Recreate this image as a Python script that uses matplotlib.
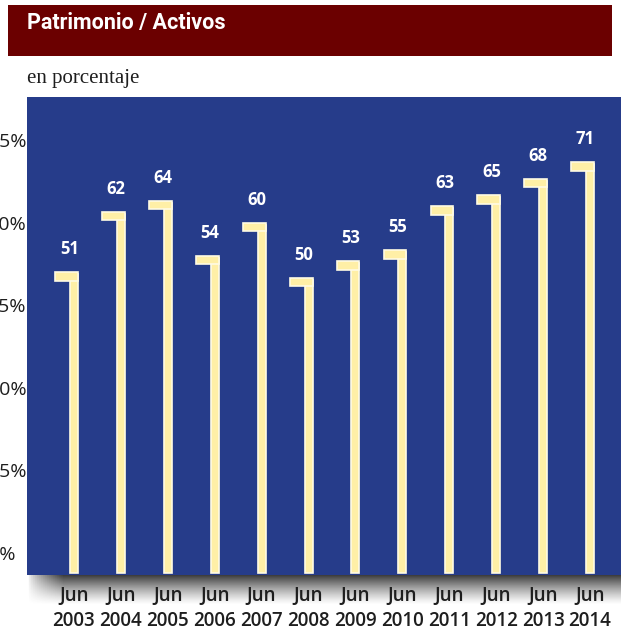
import numpy as np
import matplotlib
matplotlib.use("Agg")
import matplotlib.pyplot as plt
from matplotlib.patches import Rectangle

# data
years = ["2003", "2004", "2005", "2006", "2007", "2008",
         "2009", "2010", "2011", "2012", "2013", "2014"]
ratio = [51, 62, 64, 54, 60, 50, 53, 55, 63, 65, 68, 71]
yticks = [0, 15, 30, 45, 60, 75]

W, H = 621, 631
BLUE = "#263C8A"
CREAM = "#FFEFA6"
CREAM_EDGE = "#FFFBE4"
TEXT = "#1E1E1E"
SANS = ["Open Sans", "DejaVu Sans"]

fig = plt.figure(figsize=(W / 100, H / 100), dpi=100)
fig.patch.set_facecolor("white")

# title bar
fig.patches.append(Rectangle((8 / W, 1 - 56 / H), 604 / W, 51 / H,
                             transform=fig.transFigure, facecolor="#6B0000",
                             edgecolor="none", zorder=0))
fig.text(27 / W, 1 - 23 / H, "Patrimonio / Activos", color="white",
         fontsize=15.5, fontweight="bold", va="center", ha="left",
         family=["Roboto", "DejaVu Sans"])
fig.text(27 / W, 1 - 79 / H, "en porcentaje", color=TEXT, fontsize=15,
         va="center", ha="left", family=["Liberation Serif", "DejaVu Serif"])

# drop shadow under the plot area
sh = fig.add_axes([27 / W, 1 - 605 / H, 594 / W, 30 / H])
sh.set_axis_off()
ny, nx = 60, 300
yy = np.linspace(0, 1, ny)[:, None]
xx = np.linspace(0, 1, nx)[None, :]
alpha = np.clip(1 - yy, 0, 1) ** 1.3 * np.clip(xx / 0.06, 0, 1) ** 0.7
img = np.zeros((ny, nx, 4))
img[..., :3] = 0.18
img[..., 3] = alpha * 0.97
sh.imshow(img, aspect="auto", extent=(0, 1, 0, 1), origin="upper")
sh.set_xlim(0, 1)
sh.set_ylim(0, 1)

ax = fig.add_axes([27 / W, 1 - 575 / H, 594 / W, 478 / H])
ax.set_facecolor(BLUE)
for s in ax.spines.values():
    s.set_visible(False)

x = np.arange(len(years))
bottom = -3.6
cap_h = 1.5
for xi, v in zip(x, ratio):
    # vertical stem
    ax.add_patch(Rectangle((xi - 0.085, bottom), 0.17, v - 0.3 - bottom,
                           facecolor=CREAM, edgecolor=CREAM_EDGE, lw=1.2, zorder=2))
    # cap pointing left
    ax.add_patch(Rectangle((xi - 0.40, v - cap_h), 0.485, cap_h,
                           facecolor=CREAM, edgecolor=CREAM_EDGE, lw=1.2, zorder=3))
    ax.text(xi - 0.1, v + 2.6, str(v), color="white", fontsize=12,
            fontweight="bold", ha="center", va="bottom", zorder=4, family=SANS)

ax.set_xlim(-1.0, 11.66)
ax.set_ylim(-4.0, 82.9)
ax.set_yticks(yticks)
ax.set_yticklabels([f"{t}%" for t in yticks], fontsize=14, color=TEXT,
                   family=SANS, ha="left")
ax.set_xticks(x)
ax.set_xticklabels([f"Jun\n{y}" for y in years], fontsize=13.5, color=TEXT,
                   fontweight="semibold", linespacing=1.35, family=SANS)
# labels start left of the figure edge, so they come out clipped as in the original
ax.tick_params(axis="y", length=0, pad=28)
ax.tick_params(axis="x", length=0, pad=8)

fig.savefig("out.png", dpi=100)
